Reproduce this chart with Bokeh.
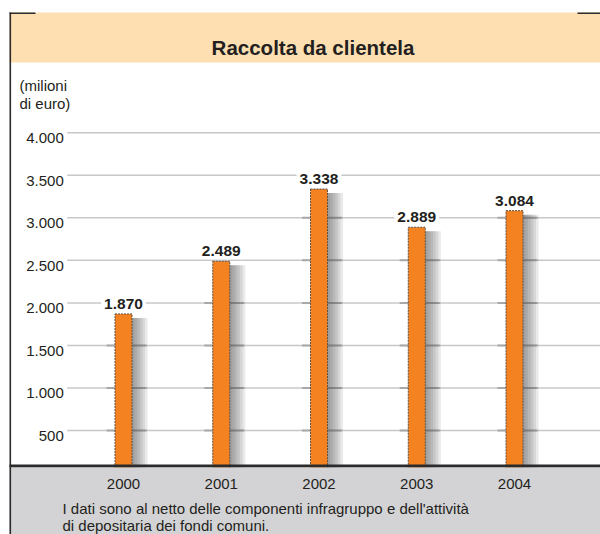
from bokeh.plotting import figure
from bokeh.models import Range1d, Label, BoxAnnotation
from bokeh.core.properties import value
from bokeh.embed import file_html
from bokeh.resources import INLINE

# ---- data ----
years = ["2000", "2001", "2002", "2003", "2004"]
values = [1870, 2489, 3338, 2889, 3084]
value_labels = ["1.870", "2.489", "3.338", "2.889", "3.084"]
tick_values = [500, 1000, 1500, 2000, 2500, 3000, 3500, 4000]
tick_labels = ["500", "1.000", "1.500", "2.000", "2.500", "3.000", "3.500", "4.000"]
title_text = "Raccolta da clientela"
unit_lines = ["(milioni", "di euro)"]
note_lines = ["I dati sono al netto delle componenti infragruppo e dell'attività",
              "di depositaria dei fondi comuni."]

# ---- layout ----
W, H = 600, 534
PX_X = 97.75      # pixels per category step
X0_PX = 123.0     # pixel position of first category
PX_Y = 0.08506    # pixels per unit
Y0_PX = 472.5     # pixel (from top) of value 0

x_start = -X0_PX / PX_X
x_end = (W - X0_PX) / PX_X
y_end = Y0_PX / PX_Y
y_start = -(H - Y0_PX) / PX_Y

FONT = "'Liberation Sans', Arial, sans-serif"
TXT = "#231f20"
FS = "15px"

p = figure(width=W, height=H, x_range=Range1d(x_start, x_end), y_range=Range1d(y_start, y_end),
           output_backend="svg", toolbar_location=None, x_axis_location=None, y_axis_location=None,
           min_border=0, outline_line_color=None, background_fill_color="white",
           border_fill_color="white")
p.grid.visible = False

xs = list(range(len(years)))


def sbox(l, r, b, t, color, level):
    return BoxAnnotation(left=l, right=r, bottom=H - b, top=H - t,
                         left_units="screen", right_units="screen",
                         bottom_units="screen", top_units="screen",
                         fill_color=color, fill_alpha=1, line_color=None, level=level)


# header band (screen px from top-left)
p.add_layout(sbox(9, W, 62, 12, "#fddfb2", "underlay"))

# grid lines
GRID_X0 = (66.7 - X0_PX) / PX_X
p.segment(x0=[GRID_X0] * len(tick_values), x1=[x_end] * len(tick_values),
          y0=tick_values, y1=tick_values, line_color="#c8c8c8", line_width=1.5)

# darker grid segments behind bars
sx0, sx1, sy = [], [], []
for i, v in enumerate(values):
    for t in tick_values:
        if t < v:
            sx0.append(i - 17 / PX_X)
            sx1.append(i + 23 / PX_X)
            sy.append(t)
p.segment(x0=sx0, x1=sx1, y0=sy, y1=sy, line_color="#a8a8a8", line_width=2)

# shadows
for k in range(1, 7):
    right = 8.5 + 2.6 * k
    p.vbar(x=[i + right / 2 / PX_X for i in xs], width=right / PX_X,
           top=[v - 4 / PX_Y for v in values], bottom=0,
           fill_color="#505050", fill_alpha=0.12, line_color=None)

# bars
p.vbar(x=xs, width=17 / PX_X, top=values, bottom=0, fill_color="#f58220",
       line_color="#5b5048", line_dash="2 1", line_width=1)

# value labels
p.text(x=xs, y=values, text=value_labels, text_align="center", text_baseline="alphabetic",
       y_offset=-10, text_font=value(FONT), text_font_style="bold", text_font_size="15.5px",
       text_color=TXT, background_fill_color="white", padding=3)

# y tick labels
TICK_X = (63.3 - X0_PX) / PX_X
p.text(x=[TICK_X] * len(tick_values), y=tick_values, text=tick_labels, text_align="right",
       text_baseline="alphabetic", y_offset=5.5, text_font=value(FONT), text_font_size=FS,
       text_color=TXT)

# footer band
p.add_layout(sbox(9, W, H, 466.7, "#d3d3d5", "annotation"))
# baseline + frame lines
for (l, r, b, t) in [(9, W, 466.7, 464.0),
                     (9, 10.6, H, 12),
                     (9, 35, 13.6, 12),
                     (577, W, 13.6, 12)]:
    p.add_layout(sbox(l, r, b, t, "#2b2b2b", "overlay"))

# year labels
p.text(x=xs, y=[0] * len(xs), text=years, text_align="center", text_baseline="alphabetic",
       y_offset=11, text_font=value(FONT), text_font_size=FS, text_color=TXT, level="overlay")

# title
p.add_layout(Label(x=312.5, y=H - 46.5, x_units="screen", y_units="screen", text=title_text,
                   text_align="center", text_baseline="alphabetic", text_font=FONT,
                   text_font_style="bold", text_font_size="20.5px", text_color=TXT, level="overlay"))
# unit
for j, line in enumerate(unit_lines):
    p.add_layout(Label(x=19, y=H - 85 - 18 * j, x_units="screen", y_units="screen", text=line,
                       text_align="left", text_baseline="alphabetic", text_font=FONT,
                       text_font_size=FS, text_color=TXT, level="overlay"))
# note
for j, line in enumerate(note_lines):
    p.add_layout(Label(x=62, y=H - 507.5 - 17.5 * j, x_units="screen", y_units="screen", text=line,
                       text_align="left", text_baseline="alphabetic", text_font=FONT,
                       text_font_size=FS, text_color=TXT, level="overlay"))

open("out.html", "w").write(file_html(p, INLINE))
